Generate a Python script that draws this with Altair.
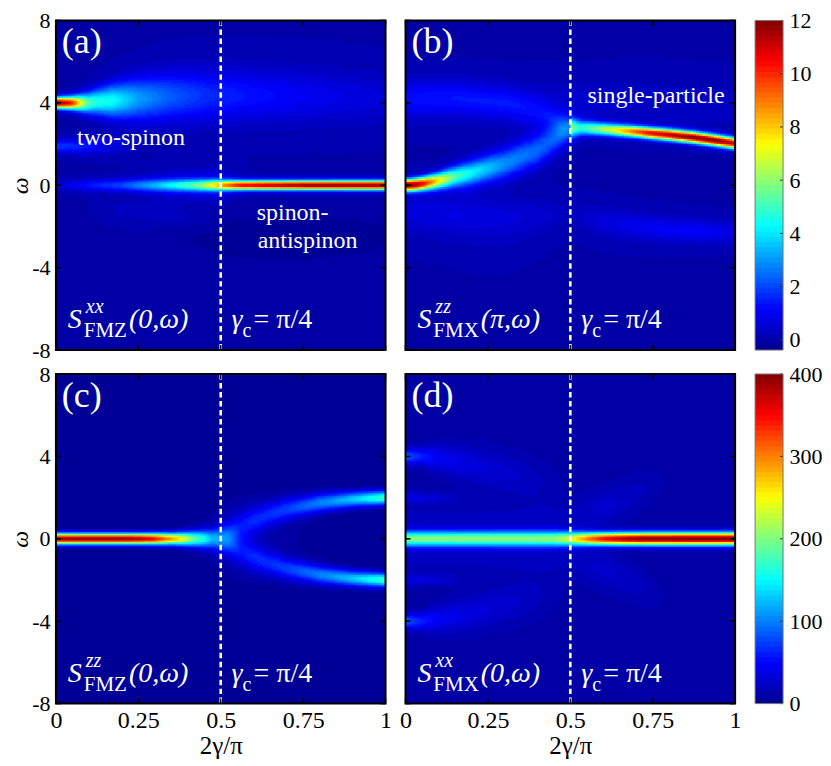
import numpy as np
import pandas as pd
import altair as alt

FONT = "Liberation Serif, Times New Roman, DejaVu Serif, serif"
PW = 330
NX, NY, NLEV = 110, 200, 64

# ---------------- data ----------------
X_TICKS = [0, 0.25, 0.5, 0.75, 1]
W_TICKS = [-8, -4, 0, 4, 8]
GAMMA_C = [0.5]
TOP_RANGE = [-0.38, 12.0]
BOT_RANGE = [0.0, 400.0]
TOP_CB_TICKS = [0, 2, 4, 6, 8, 10, 12]
BOT_CB_TICKS = [0, 100, 200, 300, 400]

# panel (a): S^xx_FMZ(0,w)
A_UP_X = [0, 0.03, 0.055, 0.075, 0.095, 0.12, 0.17, 0.25, 0.34, 0.45, 0.6, 0.8, 1.0]
A_UP_C = [4.0, 4.0, 4.0, 4.0, 4.0, 4.05, 4.1, 4.2, 4.3, 4.35, 4.35, 4.3, 4.2]
A_UP_S = [0.18, 0.2, 0.23, 0.28, 0.34, 0.42, 0.56, 0.72, 0.82, 0.88, 0.9, 0.9, 0.85]
A_UP_A = [12.2, 11.2, 9.5, 7.2, 5.5, 4.7, 4.4, 3.1, 2.3, 1.7, 1.3, 0.9, 0.6]
A_LO_X = [0, 0.08, 0.16, 0.26]
A_LO_C = [1.9, 1.9, 1.95, 2.0]
A_LO_S = [0.22, 0.26, 0.32, 0.4]
A_LO_A = [1.8, 1.5, 0.9, 0.0]
A_Z_X = [0, 0.1, 0.2, 0.3, 0.38, 0.44, 0.48, 0.52, 0.56, 0.62, 0.75, 1.0]
A_Z_S = [0.16, 0.2, 0.21, 0.21, 0.2, 0.19, 0.18, 0.17, 0.16, 0.16, 0.16, 0.16]
A_Z_A = [0.5, 1.3, 2.0, 2.9, 3.9, 5.0, 6.5, 8.5, 10.2, 11.0, 11.6, 11.8]
A_H_X = [0.2, 0.35, 0.48, 0.6]
A_H_S = [0.4, 0.5, 0.5, 0.4]
A_H_A = [0.0, 0.8, 1.2, 0.0]
A_N_X = [0.28, 0.4, 0.55, 0.75, 0.9, 1.0]
A_N_C = [-2.4, -2.5, -2.6, -2.6, -2.5, -2.5]
A_N_S = [0.35, 0.7, 0.9, 0.9, 0.8, 0.7]
A_N_A = [0.0, -0.2, -0.32, -0.35, -0.32, -0.25]
A_F_X = [0.1, 0.2, 0.35, 0.45, 0.52]
A_F_C = [-1.0, -1.2, -1.5, -1.8, -2.0]
A_F_S = [0.35, 0.35, 0.35, 0.35, 0.35]
A_F_A = [0.0, 0.3, 0.35, 0.25, 0.0]

# panel (b): S^zz_FMX(pi,w)
B_L_X = [0, 0.03, 0.06, 0.1, 0.15, 0.2, 0.3, 0.4, 0.45, 0.49, 0.53]
B_L_C = [0.0, 0.03, 0.1, 0.22, 0.42, 0.6, 1.05, 1.7, 2.2, 2.65, 2.8]
B_L_S = [0.2, 0.21, 0.23, 0.27, 0.35, 0.42, 0.52, 0.56, 0.52, 0.47, 0.45]
B_L_A = [12.0, 11.5, 10.0, 7.5, 5.2, 4.2, 2.9, 2.4, 2.2, 2.2, 0.0]
B_U_X = [0, 0.15, 0.3, 0.4, 0.47, 0.52]
B_U_C = [4.3, 4.3, 4.0, 3.5, 3.0, 2.8]
B_U_S = [0.6, 0.6, 0.6, 0.55, 0.45, 0.4]
B_U_A = [0.8, 0.9, 0.9, 0.9, 1.2, 0.0]
B_P_X = [0.495, 0.5, 0.55, 0.6, 0.65, 0.7, 0.75, 0.8, 0.87, 0.93, 1.0]
B_P_C = [2.8, 2.8, 2.77, 2.72, 2.66, 2.6, 2.52, 2.45, 2.33, 2.2, 2.03]
B_P_S = [0.32, 0.3, 0.24, 0.21, 0.2, 0.19, 0.19, 0.19, 0.19, 0.19, 0.19]
B_P_A = [0.0, 4.0, 5.0, 6.3, 7.8, 9.4, 10.7, 11.3, 12.0, 12.0, 11.2]
B_R_X = [0.5, 0.6, 0.75, 0.9, 1.0]
B_R_C = [-1.4, -1.8, -2.1, -2.25, -2.3]
B_R_S = [0.5, 0.5, 0.45, 0.4, 0.4]
B_R_A = [0.2, 0.7, 1.0, 1.1, 0.7]
B_Q_X = [0, 0.15, 0.3, 0.42, 0.5]
B_Q_C = [-1.2, -1.5, -1.8, -1.6, -1.4]
B_Q_S = [0.8, 0.9, 0.9, 0.7, 0.5]
B_Q_A = [0.5, 0.6, 0.5, 0.3, 0.0]
B_V_X = [0.5, 0.7, 1.0]
B_V_C = [4.0, 4.0, 3.8]
B_V_S = [0.7, 0.8, 0.8]
B_V_A = [0.5, 0.4, 0.3]

# panel (c): S^zz_FMZ(0,w)
C_Z_X = [0, 0.25, 0.3, 0.35, 0.38, 0.42, 0.45, 0.5, 0.56]
C_Z_S = [0.18, 0.18, 0.19, 0.2, 0.22, 0.26, 0.3, 0.38, 0.5]
C_Z_A = [395, 390, 350, 290, 250, 185, 150, 70, 0]
C_B_X = [0.47, 0.52, 0.56, 0.6, 0.65, 0.7, 0.8, 0.9, 1.0]
C_B_C = [0.0, 0.3, 0.6, 0.9, 1.2, 1.45, 1.75, 1.92, 2.0]
C_B_S = [0.5, 0.55, 0.5, 0.48, 0.42, 0.38, 0.32, 0.27, 0.24]
C_B_A = [0, 30, 45, 55, 60, 68, 98, 130, 175]
C_H_X = [0.35, 0.45, 0.55, 0.7, 0.85]
C_H_S = [0.8, 1.2, 1.6, 1.8, 2.0]
C_H_A = [0, 8, 14, 8, 0]

# panel (d): S^xx_FMX(0,w)
D_BASE = 10.0
D_Z_X = [0, 0.45, 0.5, 0.55, 0.6, 0.65, 0.72, 1.0]
D_Z_S = [0.26, 0.26, 0.24, 0.22, 0.21, 0.21, 0.21, 0.21]
D_Z_A = [188, 192, 225, 290, 340, 370, 392, 395]
D_B_X = [0, 0.05, 0.1, 0.2, 0.35, 0.5]
D_B_C = [4.0, 4.0, 3.9, 3.6, 3.0, 2.3]
D_B_S = [0.25, 0.3, 0.45, 0.6, 0.7, 0.8]
D_B_A = [75, 50, 35, 25, 15, 0]
D_L_X = [0, 0.1, 0.2]
D_L_C = [2.0, 2.0, 2.0]
D_L_S = [0.2, 0.2, 0.2]
D_L_A = [25, 18, 0]
D_R_X = [0.5, 0.6, 0.7, 0.8]
D_R_C = [1.0, 1.5, 2.2, 3.0]
D_R_S = [0.6, 0.6, 0.6, 0.6]
D_R_A = [10, 18, 12, 0]

# ---------------- build the intensity maps ----------------
XE = np.linspace(0, 1, NX + 1)
WE = np.linspace(-8, 8, NY + 1)
GX, GW = np.meshgrid((XE[:-1] + XE[1:]) / 2, (WE[:-1] + WE[1:]) / 2)


def band(xs, cs, ss, amps, sign=1.0):
    c = np.interp(GX, xs, cs) * sign
    s = np.interp(GX, xs, ss)
    a = np.interp(GX, xs, amps)
    return a * np.exp(-0.5 * ((GW - c) / s) ** 2)


def zeros(xs):
    return [0.0] * len(xs)


F_A = (band(A_UP_X, A_UP_C, A_UP_S, A_UP_A) + band(A_LO_X, A_LO_C, A_LO_S, A_LO_A)
       + band(A_Z_X, zeros(A_Z_X), A_Z_S, A_Z_A) + band(A_H_X, zeros(A_H_X), A_H_S, A_H_A)
       + band(A_N_X, A_N_C, A_N_S, A_N_A) + band(A_F_X, A_F_C, A_F_S, A_F_A))
F_B = (band(B_L_X, B_L_C, B_L_S, B_L_A) + band(B_U_X, B_U_C, B_U_S, B_U_A)
       + band(B_P_X, B_P_C, B_P_S, B_P_A) + band(B_R_X, B_R_C, B_R_S, B_R_A)
       + band(B_Q_X, B_Q_C, B_Q_S, B_Q_A) + band(B_V_X, B_V_C, B_V_S, B_V_A))
F_C = (band(C_Z_X, zeros(C_Z_X), C_Z_S, C_Z_A) + band(C_B_X, C_B_C, C_B_S, C_B_A)
       + band(C_B_X, C_B_C, C_B_S, C_B_A, -1.0) + band(C_H_X, zeros(C_H_X), C_H_S, C_H_A))
F_D = (D_BASE + band(D_Z_X, zeros(D_Z_X), D_Z_S, D_Z_A)
       + band(D_B_X, D_B_C, D_B_S, D_B_A) + band(D_B_X, D_B_C, D_B_S, D_B_A, -1.0)
       + band(D_L_X, D_L_C, D_L_S, D_L_A) + band(D_L_X, D_L_C, D_L_S, D_L_A, -1.0)
       + band(D_R_X, D_R_C, D_R_S, D_R_A) + band(D_R_X, D_R_C, D_R_S, D_R_A, -1.0))


def to_cells(F, rng):
    lo, hi = rng
    step = (hi - lo) / NLEV
    k = np.clip(np.floor((F - lo) / step), 0, NLEV - 1).astype(int)
    rows = []
    for j in range(NY):
        row = k[j]
        i0 = 0
        for i in range(1, NX + 1):
            if i == NX or row[i] != row[i0]:
                x1 = 1.0 if i == NX else min(XE[i] + 0.003, 1.0)
                rows.append((round(float(XE[i0]), 4), round(float(x1), 4),
                             round(float(WE[j]), 3), round(lo + (row[i0] + 0.5) * step, 4)))
                i0 = i
    return pd.DataFrame(rows, columns=["x0", "x1", "w0", "v"])


JET = ["#00008f", "#0000ff", "#00ffff", "#ffff00", "#ff0000", "#800000"]
STOPS = [0, 1 / 8, 3 / 8, 5 / 8, 7 / 8, 1]


def color_scale(rng):
    lo, hi = rng
    return alt.Scale(domain=[lo + (hi - lo) * s for s in STOPS], range=JET,
                     interpolate="rgb", clamp=True)


SUBW = {"F": 0.556, "M": 0.889, "Z": 0.611, "X": 0.722}


def panel(F, rng, letter, sup, sub, arg, annots, show_x, show_y):
    cs = color_scale(rng)
    xax = alt.Axis(values=X_TICKS, labelExpr="'' + datum.value", ticks=False, domain=False,
                   grid=False, labelFont=FONT, labelFontSize=24, labelColor="black",
                   labelPadding=5, labelFlush=False, labelOverlap=False,
                   title="2γ/π", titleFont=FONT, titleFontSize=25, titleFontWeight="normal",
                   titleColor="black", titlePadding=1) if show_x else None
    yax = alt.Axis(values=W_TICKS, labelExpr="'' + datum.value", ticks=False, domain=False,
                   grid=False, labelFont=FONT, labelFontSize=22, labelColor="black",
                   labelPadding=6, labelFlush=False, labelOverlap=False,
                   title="ω", titleFont=FONT, titleFontSize=24, titleFontWeight="normal",
                   titleFontStyle="italic", titleColor="black", titlePadding=-1) if show_y else None
    xs = alt.Scale(domain=[0, 1], nice=False, zero=False)
    ys = alt.Scale(domain=[-8, 8], nice=False, zero=False)

    def X(f):
        return alt.X(f, type="quantitative", scale=xs, axis=xax)

    def Y(f):
        return alt.Y(f, type="quantitative", scale=ys, axis=yax)

    heat = alt.Chart(to_cells(F, rng)).transform_calculate(
        w1="datum.w0 + 0.12"
    ).mark_rect(clip=True, strokeWidth=0).encode(
        x=X("x0"), x2=alt.X2("x1"), y=Y("w0"), y2=alt.Y2("w1"),
        color=alt.Color("v:Q", scale=cs, legend=None),
    )
    dash = alt.Chart(alt.Data(values=[{"g": g} for g in GAMMA_C])).mark_rule(
        color="white", strokeDash=[5.5, 3.5], strokeWidth=2.6
    ).encode(x=X("g"))
    xt = alt.Data(values=[{"t": t} for t in X_TICKS])
    yt = alt.Data(values=[{"t": t} for t in W_TICKS])
    tk = dict(color="black", strokeWidth=1.5)
    t_bot = alt.Chart(xt).mark_rule(**tk).encode(x=X("t"), y=alt.value(PW), y2=alt.value(PW - 5))
    t_top = alt.Chart(xt).mark_rule(**tk).encode(x=X("t"), y=alt.value(0), y2=alt.value(5))
    t_lft = alt.Chart(yt).mark_rule(**tk).encode(y=Y("t"), x=alt.value(0), x2=alt.value(5))
    t_rgt = alt.Chart(yt).mark_rule(**tk).encode(y=Y("t"), x=alt.value(PW - 5), x2=alt.value(PW))
    frame = alt.Chart(alt.Data(values=[{}])).mark_rect(
        fillOpacity=0, stroke="black", strokeWidth=2
    ).encode(x=alt.value(0), x2=alt.value(PW), y=alt.value(0), y2=alt.value(PW))

    def txt(text, x, y, size, style="normal", dx=0, dy=0):
        return alt.Chart(alt.Data(values=[{"tx": x, "ty": y}])).mark_text(
            text=text, font=FONT, fontSize=size, fontStyle=style, color="white",
            align="left", baseline="alphabetic", dx=dx, dy=dy
        ).encode(x=X("tx"), y=Y("ty"))

    layers = [heat, dash, t_bot, t_top, t_lft, t_rgt, frame]
    layers.append(txt(letter, 0.018, 6.4, 36))
    fx, fy = 0.036, -6.93
    subw = sum(SUBW[c] for c in sub) * 21
    layers += [txt("S", fx, fy, 28, "italic"),
               txt(sup, fx, fy, 20, "italic", dx=18, dy=-15),
               txt(sub, fx, fy, 21, dx=16, dy=9),
               txt(arg, fx, fy, 28, "italic", dx=18 + subw)]
    gx = 0.533
    layers += [txt("γ", gx, fy, 28, "italic"),
               txt("c", gx, fy, 20, dx=11, dy=9),
               txt("= π/4", gx, fy, 28, dx=22)]
    for (t, ax, ay) in annots:
        layers.append(txt(t, ax, ay, 24))
    return alt.layer(*layers).properties(width=PW, height=PW)


def colorbar(rng, ticks):
    lo, hi = rng
    step = (hi - lo) / NLEV
    df = pd.DataFrame({"c0": [lo + i * step for i in range(NLEV)],
                       "c1": [min(lo + (i + 1.6) * step, hi) for i in range(NLEV)],
                       "v": [lo + (i + 0.5) * step for i in range(NLEV)]})
    ys = alt.Scale(domain=[lo, hi], nice=False, zero=False)
    yax = alt.Axis(orient="right", values=ticks, labelExpr="'' + datum.value", ticks=False,
                   domain=False, grid=False, labelFont=FONT, labelFontSize=22,
                   labelColor="black", labelPadding=6, labelOverlap=False, labelFlush=False,
                   title=None)
    bar = alt.Chart(df).mark_rect(strokeWidth=0).encode(
        y=alt.Y("c0:Q", scale=ys, axis=yax), y2=alt.Y2("c1"),
        x=alt.value(0), x2=alt.value(28),
        color=alt.Color("v:Q", scale=color_scale(rng), legend=None),
    )
    tks = alt.Chart(alt.Data(values=[{"t": t} for t in ticks])).mark_rule(
        color="#333333", strokeWidth=1
    ).encode(y=alt.Y("t:Q", scale=ys, axis=yax), x=alt.value(25), x2=alt.value(28))
    frame = alt.Chart(alt.Data(values=[{}])).mark_rect(
        fillOpacity=0, stroke="#777777", strokeWidth=1
    ).encode(x=alt.value(0), x2=alt.value(28), y=alt.value(0), y2=alt.value(PW))
    return alt.layer(bar, tks, frame).properties(width=28, height=PW)


pa = panel(F_A, TOP_RANGE, "(a)", "xx", "FMZ", "(0,ω)",
           [("two-spinon", 0.064, 1.95), ("spinon-", 0.609, -1.70), ("antispinon", 0.612, -3.05)],
           False, True)
pb = panel(F_B, TOP_RANGE, "(b)", "zz", "FMX", "(π,ω)",
           [("single-particle", 0.552, 3.98)], False, False)
pc = panel(F_C, BOT_RANGE, "(c)", "zz", "FMZ", "(0,ω)", [], True, True)
pd_ = panel(F_D, BOT_RANGE, "(d)", "xx", "FMX", "(0,ω)", [], True, False)
cba = colorbar(TOP_RANGE, TOP_CB_TICKS)
cbb = colorbar(BOT_RANGE, BOT_CB_TICKS)

chart = alt.concat(pa, pb, cba, pc, pd_, cbb, columns=3,
                   spacing={"row": 24, "column": 20}, bounds="flush").resolve_scale(
    color="independent", x="independent", y="independent"
).properties(
    padding={"left": 0, "top": 0, "right": 0, "bottom": 0}, background="white"
).configure_view(stroke="transparent")

chart.save("out.html", embed_options={"renderer": "svg", "actions": False})
